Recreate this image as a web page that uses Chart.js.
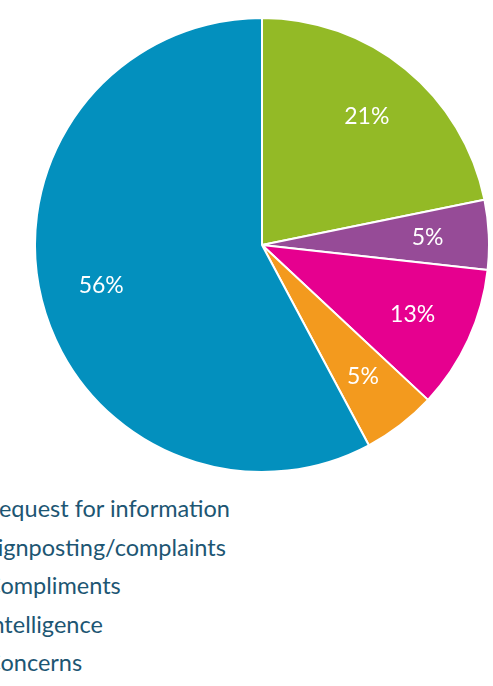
<!DOCTYPE html>
<html>
<head>
<meta charset="utf-8">
<script src="https://cdn.jsdelivr.net/npm/chart.js@4/dist/chart.umd.min.js"></script>
<style>
  html, body { margin: 0; padding: 0; background: #fff; width: 493px; height: 686px; overflow: hidden; }
  #wrap { position: absolute; left: 34px; top: 17px; width: 456px; height: 456px; }
  #legend { position: absolute; left: -43px; top: 489px; margin: 0; padding: 0; list-style: none;
    font-family: Lato, "Open Sans", sans-serif; font-size: 23.5px; color: #1d5673; }
  #legend li { height: 38.5px; line-height: 30px; display: flex; align-items: center; white-space: nowrap; }
  #legend li span.box { width: 14px; height: 14px; margin-right: 14px; display: inline-block; }
</style>
</head>
<body>
<div id="wrap"><canvas id="pie"></canvas></div>
<ul id="legend"></ul>
<script>
  // categories, in the order they sit on the pie (clockwise from 12 o'clock)
  const categories = ["Request for information", "Signposting/complaints", "Compliments", "Intelligence", "Concerns"];
  // slice sizes as drawn
  const shares = [21.8, 4.95, 10.2, 5.25, 57.8];
  // text printed on each slice
  const shareLabels = ["21%", "5%", "13%", "5%", "56%"];
  const colors = ["#93ba26", "#964b97", "#e6008f", "#f39a1e", "#0390be"];

  const sliceLabels = {
    id: "sliceLabels",
    afterDatasetsDraw(chart) {
      const { ctx } = chart;
      const arcs = chart.getDatasetMeta(0).data;
      ctx.save();
      ctx.fillStyle = "#fff";
      ctx.font = "23px Lato, 'Open Sans', sans-serif";
      ctx.textAlign = "center";
      ctx.textBaseline = "middle";
      arcs.forEach((arc, i) => {
        const { x, y, startAngle, endAngle, outerRadius } = arc.getProps(["x", "y", "startAngle", "endAngle", "outerRadius"], true);
        const mid = (startAngle + endAngle) / 2;
        const r = outerRadius * 0.73;
        ctx.fillText(shareLabels[i], x + Math.cos(mid) * r, y + Math.sin(mid) * r);
      });
      ctx.restore();
    },
  };

  new Chart(document.getElementById("pie"), {
    type: "pie",
    data: {
      labels: categories,
      datasets: [{
        data: shares,
        backgroundColor: colors,
        borderColor: "#fff",
        borderWidth: 2,
      }],
    },
    options: {
      responsive: true,
      maintainAspectRatio: false,
      animation: false,
      layout: { padding: 0 },
      plugins: {
        legend: { display: false },
        tooltip: { enabled: false },
      },
    },
    plugins: [sliceLabels],
  });

  const legend = document.getElementById("legend");
  legend.innerHTML = categories
    .map((c, i) => `<li><span class="box" style="background:${colors[i]}"></span>${c}</li>`)
    .join("");
</script>
</body>
</html>
